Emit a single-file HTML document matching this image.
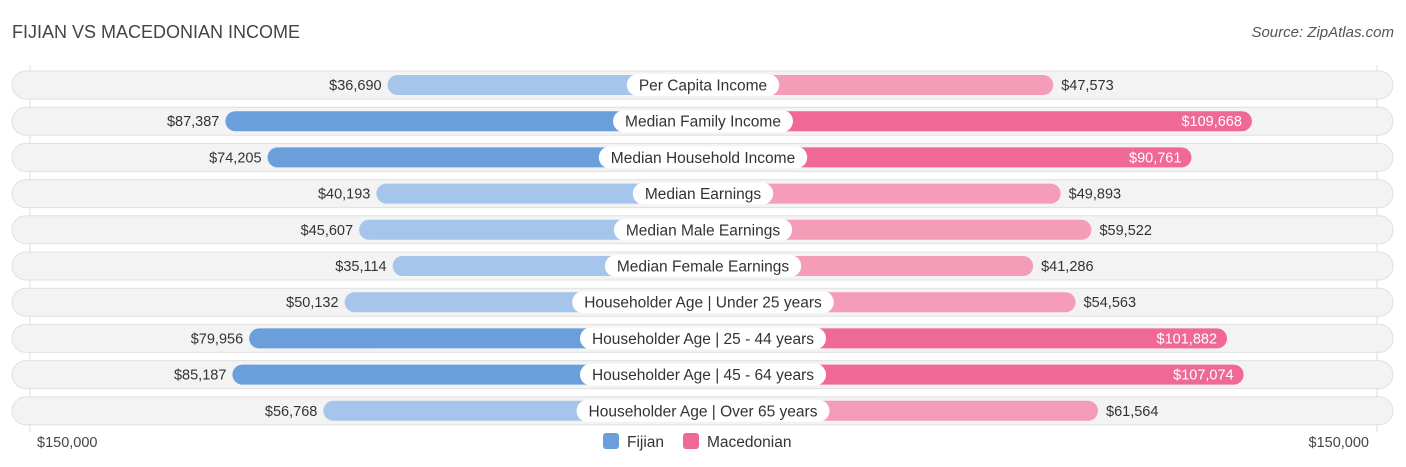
<!DOCTYPE html>
<html><head><meta charset="utf-8"><style>
body{margin:0;width:1406px;height:467px;background:#fff;font-family:"Liberation Sans",sans-serif;position:relative;overflow:hidden}
.t{position:absolute;white-space:nowrap}
</style></head><body>
<div class="t" style="left:12px;top:22px;font-size:18px;color:#444">FIJIAN VS MACEDONIAN INCOME</div>
<div class="t" style="right:12px;top:24px;font-size:15px;color:#555;font-style:italic">Source: ZipAtlas.com</div>
<svg id="chart" width="1406" height="467" style="position:absolute;left:0;top:0"></svg>
<script>
const categories=["Per Capita Income","Median Family Income","Median Household Income","Median Earnings","Median Male Earnings","Median Female Earnings","Householder Age | Under 25 years","Householder Age | 25 - 44 years","Householder Age | 45 - 64 years","Householder Age | Over 65 years"];
const fijian=[36690,87387,74205,40193,45607,35114,50132,79956,85187,56768];
const macedonian=[47573,109668,90761,49893,59522,41286,54563,101882,107074,61564];
const axisMax=150000;
const axisLabel="$150,000";
const svg=document.getElementById('chart');
const NS="http://www.w3.org/2000/svg";
const cx=703,off=198,span=480;
function xs(v){return off+v/axisMax*span;}
function rowY(i){return 85+i*36.2;}
function fmt(v){return "$"+v.toLocaleString("en-US");}
function mk(tag,attrs,parent){const e=document.createElementNS(NS,tag);for(const k in attrs)e.setAttribute(k,attrs[k]);(parent||svg).appendChild(e);return e;}
const g1=mk('line',{x1:30,x2:30,y1:65,y2:432,stroke:'#ddd'});


const g2=mk('line',{x1:1377,x2:1377,y1:65,y2:432,stroke:'#ddd'});


categories.forEach((c,i)=>{
  const y=rowY(i);
  const bg=mk('rect',{x:12,y:y-14,width:1381,height:28,rx:14,fill:'#f3f3f3',stroke:'#e0e0e0'});
  
  
  const fv=fijian[i],mv=macedonian[i];
  const fd=fv>70000,md=mv>70000;
  const fw=xs(fv);
  const fb=mk('rect',{x:cx-fw,y:y-10,width:fw,height:20,rx:10,fill:fd?'#6a9fdc':'#a5c5ea'});
  
  
  const mw=xs(mv);
  const mb=mk('rect',{x:cx,y:y-10,width:mw,height:20,rx:10,fill:md?'#f06895':'#f59cb9'});
  
  
  const ft=mk('text',{x:fd?cx-fw-6:cx-fw-6,y:y+5,'text-anchor':'end','font-size':14.5,fill:'#333'});
  ft.textContent=fmt(fv);
  
  
  const mt=mk('text',{x:md?cx+mw-10:cx+mw+8,y:y+5,'text-anchor':md?'end':'start','font-size':14.5,fill:md?'#fff':'#333'});
  mt.textContent=fmt(mv);
  
  
  const lt=mk('text',{x:cx,y:y+5.5,'text-anchor':'middle','font-size':15.5,fill:'#333'});
  lt.textContent=c;
  
  
  const w=lt.getComputedTextLength()+24;
  const pill=mk('rect',{x:cx-w/2,y:y-11,width:w,height:22,rx:11,fill:'#fff'});
  svg.insertBefore(pill,lt);
  
  
});
const al=mk('text',{x:37,y:447,'font-size':14.5,fill:'#444'});al.textContent=axisLabel;


const ar=mk('text',{x:1369,y:447,'font-size':14.5,fill:'#444','text-anchor':'end'});ar.textContent=axisLabel;


const l1=mk('rect',{x:603,y:433,width:16,height:16,rx:3,fill:'#6a9fdc'});


const l1t=mk('text',{x:627,y:447,'font-size':15.5,fill:'#333'});l1t.textContent="Fijian";


const l2=mk('rect',{x:683,y:433,width:16,height:16,rx:3,fill:'#f06895'});


const l2t=mk('text',{x:707,y:447,'font-size':15.5,fill:'#333'});l2t.textContent="Macedonian";


</script>
</body></html>
